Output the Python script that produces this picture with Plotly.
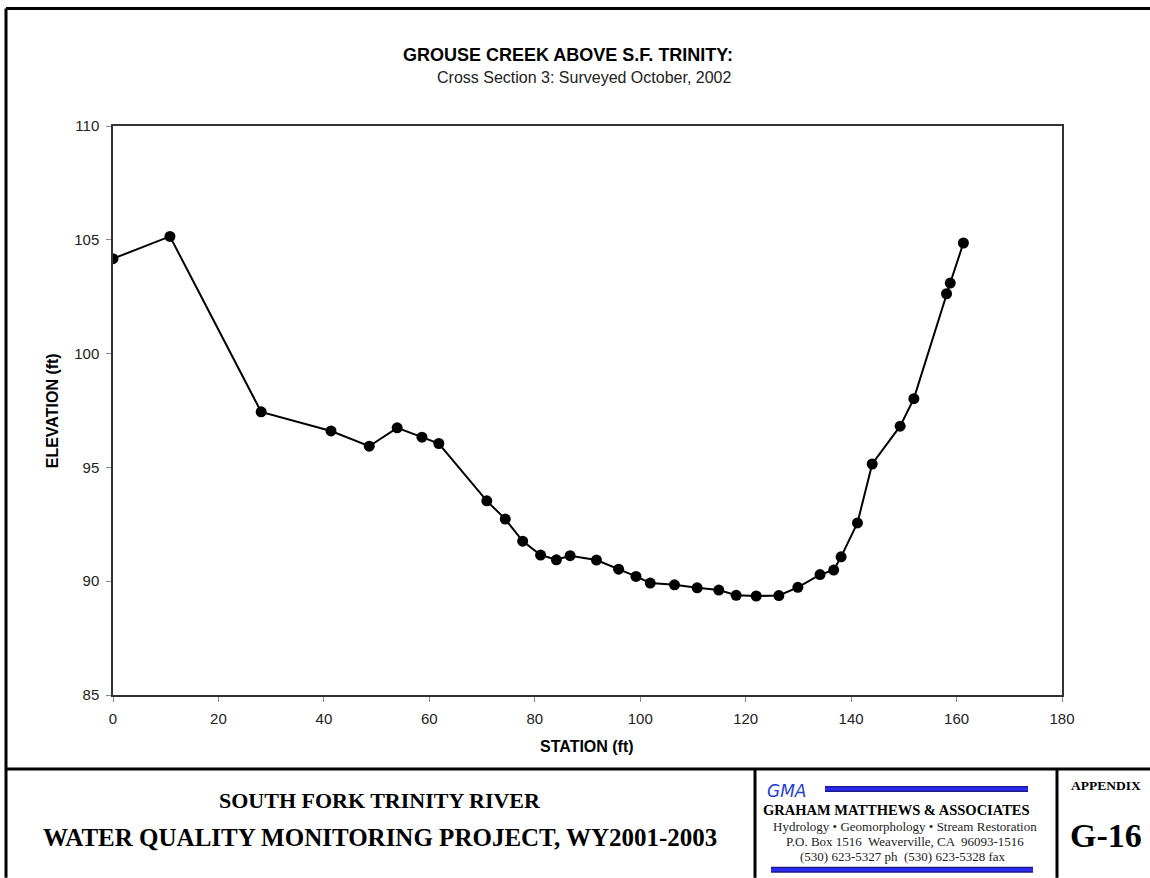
import plotly.graph_objects as go

# Surveyed cross-section: station (ft) vs. elevation (ft)
station = [0.0, 10.8, 28.1, 41.35, 48.6, 53.9, 58.6, 61.8, 70.9, 74.4, 77.7, 81.1,
           84.1, 86.7, 91.7, 95.9, 99.2, 101.9, 106.5, 110.8, 114.9, 118.2, 122.0,
           126.3, 129.9, 134.1, 136.7, 138.1, 141.2, 144.0, 149.3, 151.9, 158.1,
           158.8, 161.3]
elevation = [104.17, 105.15, 97.44, 96.60, 95.93, 96.74, 96.33, 96.05, 93.53, 92.73,
             91.76, 91.15, 90.94, 91.12, 90.93, 90.53, 90.21, 89.92, 89.84, 89.71,
             89.61, 89.38, 89.35, 89.37, 89.73, 90.29, 90.49, 91.07, 92.56, 95.15,
             96.81, 98.02, 102.63, 103.10, 104.86]

x_ticks = [0, 20, 40, 60, 80, 100, 120, 140, 160, 180]
y_ticks = [85, 90, 95, 100, 105, 110]

W, H = 1150, 878
L, R, T, B = 113, 1062, 125.5, 695  # plot-area edges in page pixels


def px(x):
    return (x - L) / (R - L)


def py(y):
    return (B - y) / (B - T)


fig = go.Figure()
fig.add_trace(go.Scatter(
    x=station, y=elevation, mode="lines+markers",
    line=dict(color="black", width=2),
    marker=dict(color="black", size=11),
    showlegend=False, hoverinfo="x+y",
))

axis_font = dict(family="Liberation Sans, Arial, sans-serif", size=15, color="#222")
fig.update_layout(
    width=W, height=H,
    margin=dict(l=L, r=W - R, t=T, b=H - B),
    paper_bgcolor="white", plot_bgcolor="white",
    xaxis=dict(range=[0, 180], tickvals=x_ticks, showgrid=False, zeroline=False,
               showline=True, mirror=True, linecolor="#333", linewidth=1.5,
               ticks="outside", ticklen=5, tickcolor="#888", tickfont=axis_font,
               ticklabelstandoff=4),
    yaxis=dict(range=[85, 110], tickvals=y_ticks, showgrid=False, zeroline=False,
               showline=True, mirror=True, linecolor="#333", linewidth=1.5,
               ticks="outside", ticklen=5, tickcolor="#888", tickfont=axis_font,
               ticklabelstandoff=4),
)

sans_b = "Liberation Sans, Arial, sans-serif"
serif = "Liberation Serif, Times New Roman, serif"


def text(x, y, s, size, family, color="black", bold=False, italic=False, angle=0, xanchor="center"):
    if bold:
        s = "<b>" + s + "</b>"
    if italic:
        s = "<i>" + s + "</i>"
    fig.add_annotation(x=px(x), y=py(y), xref="paper", yref="paper", text=s,
                       showarrow=False, xanchor=xanchor, yanchor="middle",
                       textangle=angle, font=dict(size=size, family=family, color=color))


# Chart titles
text(568, 54, "GROUSE CREEK ABOVE S.F. TRINITY:", 18, sans_b, bold=True)
text(584, 77, "Cross Section 3: Surveyed October, 2002", 16, sans_b, color="#222")
text(587, 747, "STATION (ft)", 16, sans_b, bold=True)
text(52, 410, "ELEVATION (ft)", 16, sans_b, bold=True, angle=-90)

# Title block text
text(380, 801, "SOUTH FORK TRINITY RIVER", 22, serif, bold=True)
text(380, 838, "WATER QUALITY MONITORING PROJECT, WY2001-2003", 25, serif, bold=True)
text(765, 791, "GMA", 17, "Verdana, DejaVu Sans, sans-serif", color="#1f3fd6", italic=True, xanchor="left")
text(896, 810, "GRAHAM MATTHEWS &amp; ASSOCIATES", 14.5, serif, bold=True)
text(905, 827, "Hydrology \u2022 Geomorphology \u2022 Stream Restoration", 13, serif, color="#222")
text(905, 842, "P.O. Box 1516  Weaverville, CA  96093-1516", 13, serif, color="#222")
text(903, 857, "(530) 623-5327 ph  (530) 623-5328 fax", 13, serif, color="#222")
text(1106, 786, "APPENDIX", 13.5, serif, bold=True)
text(1106, 836, "G-16", 34, serif, bold=True)


def seg(x0, y0, x1, y1, color="black", width=3):
    fig.add_shape(type="line", xref="paper", yref="paper",
                  x0=px(x0), y0=py(y0), x1=px(x1), y1=py(y1),
                  line=dict(color=color, width=width))


# Page frame and title block dividers
seg(6, 8, 1150, 8)
seg(6, 8, 6, 878)
seg(6, 769, 1150, 769)
seg(755, 769, 755, 878)
seg(1057, 769, 1057, 878)

# Blue rules in the consultant block
seg(825, 789, 1028, 789, color="#1a1a8a", width=6)
seg(825, 789, 1028, 789, color="#2a2aff", width=3)
seg(771, 870, 1033, 870, color="#1a1a8a", width=6)
seg(771, 870, 1033, 870, color="#2a2aff", width=3)

fig.write_html("out.html")
